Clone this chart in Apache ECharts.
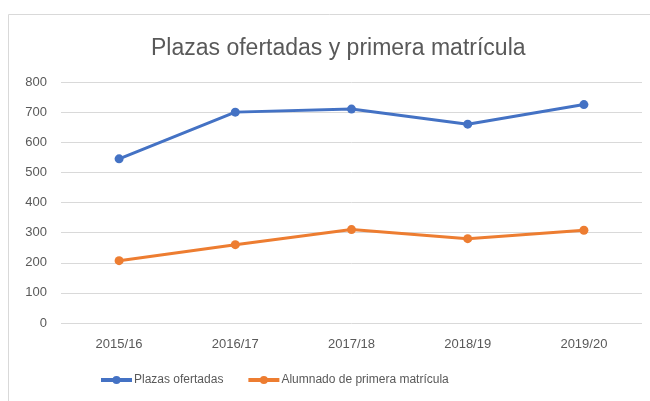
<!DOCTYPE html>
<html lang="es">
<head>
  <meta charset="utf-8">
</head>
<body style="height: 100%; margin: 0; background: #fff">
  <div id="container" style="width: 650px; height: 401px"></div>
  <script type="text/javascript" src="https://cdn.jsdelivr.net/npm/echarts@6.0.0/dist/echarts.min.js"></script>
  <script type="text/javascript">
    // datos
    var cursos = ['2015/16', '2016/17', '2017/18', '2018/19', '2019/20'];
    var plazasOfertadas = [545, 700, 710, 660, 725];
    var primeraMatricula = [207, 260, 310, 280, 308];

    var dom = document.getElementById('container');
    var myChart = echarts.init(dom, null, { renderer: 'canvas' });

    var fuente = 'Liberation Sans';
    var gris = '#595959';

    var option = {
      animation: false,
      graphic: [
        {
          type: 'rect',
          shape: { x: 8.5, y: 14.5, width: 800, height: 600 },
          style: { fill: null, stroke: '#d9d9d9', lineWidth: 1 },
          silent: true
        }
      ],
      title: {
        text: 'Plazas ofertadas y primera matrícula',
        left: 146,
        top: 32,
        textStyle: { fontFamily: fuente, fontSize: 23, fontWeight: 'normal', color: gris }
      },
      legend: {
        bottom: 10,
        left: 94,
        itemWidth: 31,
        itemHeight: 10,
        itemGap: 23,
        lineStyle: { width: 4 },
        textStyle: { fontFamily: fuente, fontSize: 12, color: gris, padding: [0, 0, 0, -3] },
        data: ['Plazas ofertadas', 'Alumnado de primera matrícula']
      },
      grid: { left: 61, right: 8, top: 82, bottom: 78 },
      xAxis: {
        type: 'category',
        data: cursos,
        boundaryGap: true,
        axisLine: { show: false },
        axisTick: { show: false },
        axisLabel: { margin: 15, fontFamily: fuente, fontSize: 13, color: gris }
      },
      yAxis: {
        type: 'value',
        min: 0,
        max: 800,
        interval: 100,
        axisLine: { show: false },
        axisTick: { show: false },
        axisLabel: { margin: 14, fontFamily: fuente, fontSize: 13, color: gris },
        splitLine: { lineStyle: { color: '#d9d9d9', width: 1 } }
      },
      series: [
        {
          name: 'Plazas ofertadas',
          type: 'line',
          data: plazasOfertadas,
          symbol: 'circle',
          symbolSize: 9,
          color: '#4472C4',
          lineStyle: { width: 3 }
        },
        {
          name: 'Alumnado de primera matrícula',
          type: 'line',
          data: primeraMatricula,
          symbol: 'circle',
          symbolSize: 9,
          color: '#ED7D31',
          lineStyle: { width: 3 }
        }
      ]
    };

    myChart.setOption(option);
    window.addEventListener('resize', myChart.resize);
  </script>
</body>
</html>
